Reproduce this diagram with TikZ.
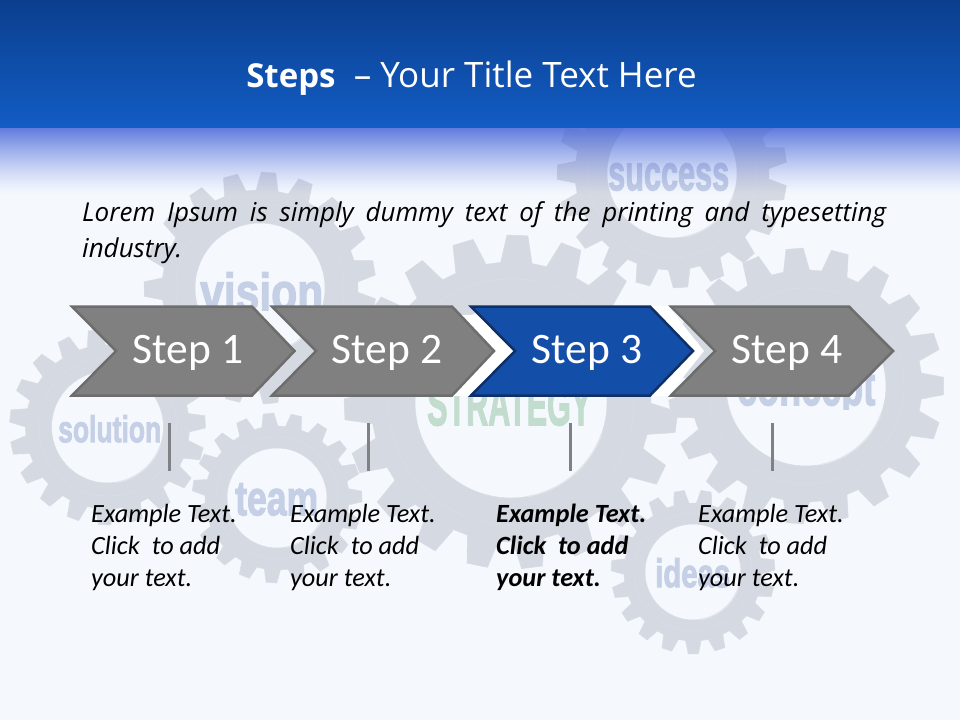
\documentclass[tikz,border=0pt]{standalone}
\usepackage{fontspec}
\usepackage{graphicx}
\setmainfont{Carlito}
\newfontfamily\titlefont{Open Sans}
\newfontfamily\leadfont{Open Sans}
\newfontfamily\wordfont[BoldFeatures={FakeBold=2.5}]{Liberation Sans}
\definecolor{bgc}{HTML}{F5F9FE}
\definecolor{gearc}{HTML}{D5D9E2}
\definecolor{gearedge}{HTML}{D9DCE5}
\definecolor{gearline}{HTML}{DADDE5}
\definecolor{gearhi}{HTML}{E3E5EB}
\definecolor{wordc}{HTML}{C5CFE5}
\definecolor{stratc}{HTML}{C2DCCE}
\definecolor{hdtop}{HTML}{0B3F8E}
\definecolor{hdbot}{HTML}{125CC4}
\definecolor{fadec}{HTML}{4664D7}
\definecolor{stepg}{HTML}{808080}
\definecolor{stepgb}{HTML}{6D6D6D}
\definecolor{stepb}{HTML}{134FA8}
\definecolor{stepbb}{HTML}{0F2F66}
\definecolor{tickc}{HTML}{808185}
\tikzset{
  gearshape/.style={fill=gearc,draw=gearedge,line width=.5pt,even odd rule},
  gearring/.style={draw=gearline,line width=.7pt},
  gearbevel/.style={draw=gearhi,line width=1.4pt},
  chevgray/.style={fill=stepg,draw=stepgb,line width=2.5pt,line join=miter},
  chevblue/.style={fill=stepb,draw=stepbb,line width=2.5pt,line join=miter},
  whiteglow/.style={fill=white,draw=none},
  steplabel/.style={text=white,font=\fontsize{43.5}{44}\selectfont,anchor=base,inner sep=0pt},
  tick/.style={draw=tickc,line width=3pt},
  exbox/.style={anchor=north west,inner sep=0pt,align=left,font=\fontsize{26.3}{32}\selectfont\itshape},
  word/.style={inner sep=0pt,anchor=north west},
}
% \gearat{cx}{cy}{outer}{root}{hole}{ring}{teeth}{rot}
\newcommand{\gearat}[8]{%
  \begin{scope}[shift={(#1,#2)},rotate=#8]
    \pgfmathsetmacro{\pp}{360/#7}
    \pgfmathtruncatemacro{\nn}{#7-1}
    \path[gearshape] (-.34*\pp:#4)
      \foreach \i [evaluate=\i as \a using \i*\pp] in {0,...,\nn} {
        -- (\a-.34*\pp:#4) -- (\a-.19*\pp:#3) -- (\a+.19*\pp:#3) -- (\a+.34*\pp:#4)
      } -- cycle (0,0) circle (#5);
    \path[gearring] (0,0) circle (#6);
  \end{scope}
  \begin{scope}[shift={(#1,#2)}]
    \path[gearbevel] (20:#5) arc (20:80:#5);
  \end{scope}}
\begin{document}
\begin{tikzpicture}[x=1pt,y=-1pt]
\useasboundingbox (0,0) rectangle (960,720);
\fill[bgc] (0,0) rectangle (960,720);
% gears
\gearat{260}{288}{116}{98}{65}{84}{19}{10}
\gearat{107.5}{427}{98}{82}{56}{69}{19}{3}
\gearat{277}{498}{85}{72}{50}{61}{19}{1}
\gearat{511}{402}{167}{140}{96}{123}{19}{12}
\gearat{806}{386}{138}{116}{80}{98}{19}{0}
\gearat{672}{173}{115}{97}{65}{84}{19}{9}
\gearat{693}{572}{82}{69}{48}{59}{19}{5}
% words
\node[word] (wvision) at (200,272) {\resizebox{123pt}{38pt}{\color{wordc}\wordfont\bfseries vision}};
\node[word] (wsolution) at (58,415) {\resizebox{103pt}{27pt}{\color{wordc}\wordfont\bfseries solution}};
\node[word] (wteam) at (235,483) {\resizebox{83pt}{32pt}{\color{wordc}\wordfont\bfseries team}};
\node[word] (wstrategy) at (427,384) {\resizebox{164pt}{41pt}{\color{stratc}\wordfont\bfseries STRATEGY}};
\node[word] (wsuccess) at (608,163) {\resizebox{121pt}{27pt}{\color{wordc}\wordfont\bfseries success}};
\begin{scope}
  \clip (730,360) rectangle (880,409);
  \node[word] (wconcept) at (737,368) {\resizebox{138pt}{37pt}{\color{wordc}\wordfont\bfseries concept}};
\end{scope}
\node[word] (wideas) at (655,558) {\resizebox{75pt}{29pt}{\color{wordc}\wordfont\bfseries ideas}};
% header fade (over the gears)
\foreach \y in {0,...,67} {
  \pgfmathsetmacro{\aa}{.85*(1-\y/68)^1.3}
  \fill[fadec,opacity=\aa] (0,127+\y) rectangle (960,128+\y);
}
% header band
\shade[top color=hdtop,bottom color=hdbot] (0,0) rectangle (960,127);
\node[inner sep=0pt,anchor=base,text=white,font=\titlefont] (title) at (471.5,87)
  {\fontsize{33}{33}\selectfont\textbf{Steps}\fontsize{35}{35}\selectfont\ \ – Your Title Text Here};
% lead text
\node[anchor=north west,inner sep=0pt,text width=804pt,align=justify,font=\fontsize{26}{36}\selectfont\leadfont\itshape] (lead) at (82,201.5)
  {Lorem Ipsum is simply dummy text of the printing and typesetting\linebreak industry.};
% white band around the active step
\fill[whiteglow] (461,315) -- (495,351) -- (452,396) -- (470,396) -- (514,351) -- (477,315) -- cycle;
\fill[whiteglow] (650,306) -- (694,351) -- (650,396) -- (668,396) -- (704,351) -- (668,306) -- cycle;
% chevrons
\draw[chevgray] (72,306.5) -- (252,306.5) -- (294.5,351) -- (252,395.5) -- (72,395.5) -- (116,351) -- cycle;
\draw[chevgray] (272,306.5) -- (452,306.5) -- (494,351) -- (452,395.5) -- (272,395.5) -- (316,351) -- cycle;
\draw[chevblue] (471,306.5) -- (650,306.5) -- (693,351) -- (650,395.5) -- (471,395.5) -- (515,351) -- cycle;
\draw[chevgray] (671,306.5) -- (849,306.5) -- (893,351) -- (849,395.5) -- (671,395.5) -- (715,351) -- cycle;
\node[steplabel] (s1) at (188,363) {Step 1};
\node[steplabel] (s2) at (387,363) {Step 2};
\node[steplabel] (s3) at (587,363) {Step 3};
\node[steplabel] (s4) at (787,363) {Step 4};
% ticks
\coordinate (t1a) at (169,423); \coordinate (t1b) at (169,471);
\coordinate (t2a) at (368.5,423); \coordinate (t2b) at (368.5,471);
\coordinate (t3a) at (570.5,423); \coordinate (t3b) at (570.5,471);
\coordinate (t4a) at (772,423); \coordinate (t4b) at (772,471);
\draw[tick] (t1a) -- (t1b);
\draw[tick] (t2a) -- (t2b);
\draw[tick] (t3a) -- (t3b);
\draw[tick] (t4a) -- (t4b);
% example texts
\node[exbox] (e1) at (91,504) {Example Text.\\Click\ \ to add\\your text.};
\node[exbox] (e2) at (290,504) {Example Text.\\Click\ \ to add\\your text.};
\node[exbox,font=\fontsize{26.3}{32}\selectfont\itshape\bfseries] (e3) at (496,504) {Example Text.\\Click\ \ to add\\your text.};
\node[exbox] (e4) at (698,504) {Example Text.\\Click\ \ to add\\your text.};
\end{tikzpicture}
\end{document}
